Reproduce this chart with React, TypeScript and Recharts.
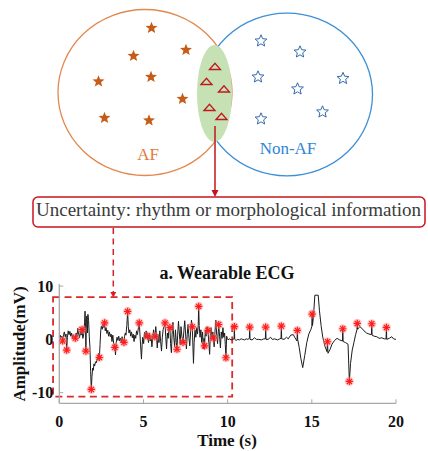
import React from "react";
import {
  ComposedChart,
  Line,
  Scatter,
  XAxis,
  YAxis,
  ReferenceArea,
} from "recharts";

// ECG trace: [time (s), amplitude (mV)]
const ecgTrace: [number, number][] = [
  [0.0, 0.2], [0.05, 0.8], [0.1, 0.3], [0.15, 0.6], [0.2, -0.3], [0.25, 0.9], [0.3, 1.4], [0.35, 0.5],
  [0.4, 1.0], [0.44, -2.0], [0.48, 0.4], [0.53, 1.6], [0.58, 0.9], [0.63, 1.5], [0.68, 0.6], [0.73, 1.2],
  [0.78, 0.2], [0.83, 0.9], [0.88, 0.4], [0.95, 0.25], [1.0, 1.2], [1.05, 0.6], [1.1, 2.1], [1.15, 1.0],
  [1.2, 0.3], [1.25, 1.4], [1.3, 0.8], [1.35, 1.85], [1.4, 0.2], [1.45, 1.0], [1.5, 3.2], [1.53, 5.3],
  [1.56, 2.0], [1.58, -2.2], [1.61, 3.8], [1.64, 4.4], [1.67, 1.2], [1.7, 4.7], [1.74, 3.5], [1.78, 0.6],
  [1.82, -1.5], [1.86, -6.0], [1.9, -9.4], [1.94, -7.0], [1.98, -5.4], [2.02, -5.8], [2.06, -4.6], [2.1, -5.0],
  [2.15, -4.2], [2.2, -4.4], [2.25, -3.6], [2.3, -3.9], [2.34, -2.6], [2.38, -3.4], [2.42, -1.0], [2.46, 1.6],
  [2.5, 2.5], [2.55, 1.9], [2.6, 2.8], [2.65, 2.2], [2.69, 3.1], [2.73, 1.6], [2.78, 2.2], [2.83, 1.1],
  [2.88, 1.7], [2.93, 0.6], [2.98, 1.4], [3.03, 0.5], [3.08, 1.0], [3.13, -0.4], [3.18, 0.8], [3.23, -0.8],
  [3.3, -1.5], [3.34, -2.9], [3.38, -0.6], [3.43, 0.4], [3.48, -0.2], [3.53, 0.6], [3.58, -0.3], [3.63, 0.2],
  [3.68, -0.6], [3.73, 0.5], [3.78, -0.2], [3.84, -0.55], [3.88, 0.6], [3.92, 1.2], [3.96, 0.8], [4.01, 2.6],
  [4.06, 5.25], [4.1, 2.4], [4.14, 1.2], [4.19, 1.8], [4.24, 0.6], [4.29, 1.4], [4.34, 0.3], [4.39, 1.0],
  [4.44, -0.4], [4.49, 0.8], [4.54, 0.2], [4.59, 1.6], [4.64, 0.9], [4.7, 2.2], [4.75, 3.1], [4.79, 1.0],
  [4.83, -1.2], [4.88, -3.7], [4.92, -1.0], [4.96, 0.4], [5.01, -0.8], [5.06, 1.3], [5.11, 0.3], [5.16, 1.6],
  [5.21, 0.2], [5.25, 0.6], [5.3, -0.6], [5.35, 1.2], [5.4, -0.3], [5.45, 0.8], [5.5, -1.4], [5.55, 0.4],
  [5.6, 1.8], [5.64, 0.7], [5.68, 0.5], [5.73, 2.4], [5.77, 0.8], [5.82, -1.6], [5.87, 0.9], [5.92, -0.6],
  [5.97, 1.6], [6.02, -0.4], [6.07, -2.2], [6.12, 0.4], [6.17, 1.9], [6.22, 2.4], [6.28, 3.1], [6.32, 0.6],
  [6.37, -1.8], [6.42, 1.2], [6.47, 0.2], [6.52, 2.4], [6.57, 2.2], [6.61, -0.8], [6.66, -2.5], [6.7, 1.0],
  [6.75, 3.2], [6.8, 0.4], [6.85, -1.4], [6.9, 1.8], [6.95, -0.6], [6.99, -1.85], [7.03, 0.8], [7.08, 3.4],
  [7.13, 1.2], [7.18, -1.0], [7.23, 2.4], [7.28, 0.6], [7.35, -0.55], [7.4, 1.6], [7.45, 3.5], [7.5, 1.2],
  [7.55, -1.8], [7.6, 0.9], [7.65, 2.8], [7.7, 0.3], [7.75, -1.2], [7.8, 1.4], [7.85, 3.6], [7.9, 2.35],
  [7.94, -1.6], [7.97, -4.5], [8.01, -0.6], [8.06, 1.8], [8.11, 0.4], [8.16, 2.2], [8.21, 1.0], [8.25, 2.6],
  [8.28, 6.2], [8.31, 2.6], [8.36, 0.4], [8.41, 1.8], [8.46, -0.6], [8.51, 1.4], [8.56, -1.8], [8.6, 0.2],
  [8.63, -1.2], [8.67, 1.6], [8.72, 0.6], [8.77, 2.4], [8.83, 1.7], [8.88, -0.6], [8.93, -2.8], [8.97, 0.8],
  [9.02, 2.2], [9.07, 0.2], [9.12, 1.4], [9.15, 0.25], [9.2, -1.4], [9.25, 1.6], [9.3, 3.6], [9.35, 0.8],
  [9.4, -0.8], [9.47, 2.8], [9.52, 0.6], [9.57, -1.6], [9.62, 1.4], [9.67, 0.2], [9.72, 2.2], [9.77, 0.4],
  [9.82, 1.2], [9.86, -1.0], [9.9, -3.45], [9.94, 0.6], [9.98, 0.2], [10.03, -0.1], [10.08, 0.1],
  [10.1, 0.1], [10.2, -0.1], [10.3, 0.0], [10.38, 0.1], [10.4, 2.38], [10.42, 0.0], [10.5, -0.2], [10.6, 0.0],
  [10.7, -0.1], [10.8, 0.1], [10.9, 0.0], [11.0, -0.1], [11.1, 0.1], [11.2, 0.0], [11.29, 0.2], [11.31, 2.3],
  [11.33, 0.0], [11.45, -0.1], [11.6, 0.3], [11.7, 0.0], [11.85, 0.0], [12.0, -0.1], [12.15, 0.1], [12.24, 0.1],
  [12.26, 2.3], [12.28, 0.0], [12.4, 0.0], [12.55, 0.4], [12.65, 0.0], [12.8, 0.1], [12.95, -0.1], [13.1, 0.1],
  [13.17, 0.2], [13.19, 2.5], [13.21, 0.1], [13.35, 0.0], [13.5, 0.4], [13.6, 0.1], [13.75, 0.8], [13.9, 0.9],
  [14.0, 0.3], [14.12, -0.3], [14.14, 1.69], [14.16, 0.0], [14.25, -1.5], [14.35, -3.6], [14.46, -5.3],
  [14.58, -3.0], [14.7, -0.6], [14.82, 1.0], [14.95, 1.9], [15.0, 2.4], [15.02, 4.75], [15.04, 2.6],
  [15.1, 4.4], [15.18, 8.3], [15.38, 8.3], [15.45, 5.5], [15.55, 2.6], [15.65, 0.4], [15.78, -1.3],
  [15.9, -2.3], [15.93, -0.44], [15.96, -2.6], [16.08, -1.9], [16.2, -0.9], [16.35, -0.2], [16.5, 0.2],
  [16.65, -0.1], [16.82, -0.3], [16.84, 2.0], [16.86, -0.4], [17.0, -0.6], [17.15, -0.9], [17.23, -7.9],
  [17.3, -4.5], [17.4, -2.0], [17.5, -0.6], [17.6, 0.9], [17.68, 1.8], [17.7, 3.0], [17.72, 1.9],
  [17.85, 2.4], [17.97, 2.1], [18.1, 1.6], [18.25, 1.2], [18.4, 1.0], [18.54, 0.9], [18.56, 2.94],
  [18.58, 0.8], [18.7, 0.6], [18.86, 0.5], [19.0, 0.2], [19.15, 0.3], [19.3, 0.1], [19.41, 0.1],
  [19.43, 2.25], [19.45, 0.0], [19.6, 0.2], [19.75, 0.5], [19.85, 0.1], [20.0, 0.0],
];

// Detected R-peaks
const peakTime = [
  0.2, 0.44, 0.95, 1.35, 1.58, 1.9, 2.38, 2.69, 3.3, 3.84, 4.06, 4.75, 5.25, 5.68, 6.28, 6.57, 6.99, 7.35,
  7.9, 8.28, 8.63, 8.83, 9.15, 9.47, 9.9, 10.4, 11.31, 12.26, 13.19, 14.14, 15.02, 15.93, 16.84, 17.23,
  17.7, 18.56, 19.43,
];
const peakAmp = [
  -0.3, -2.0, 0.25, 1.85, -2.2, -9.4, -3.4, 3.1, -1.5, -0.55, 5.25, 3.1, 0.6, 0.5, 3.1, 2.2, -1.85, -0.55,
  2.35, 6.2, -1.2, 1.7, 0.25, 2.8, -3.45, 2.38, 2.3, 2.3, 2.5, 1.69, 4.75, -0.44, 2.0, -7.9, 3.0, 2.94,
  2.25,
];

const xTicks = [0, 5, 10, 15, 20];
const yTicks = [-10, 0, 10];

// Window of the noisy segment, in data units
const noisyWindow = { x1: -0.37, x2: 10.27, y1: -10.75, y2: 7.94 };

const ecgData = ecgTrace.map(([t, v]) => ({ t, v }));
const peakData = peakTime.map((t, i) => ({ t, v: peakAmp[i] }));

const SERIF = "'Times New Roman', 'Liberation Serif', serif";
const FRAME = "#a8a8a8";

const PeakMarker = (props: any) => {
  const { cx, cy } = props;
  if (cx == null || cy == null) return null;
  const r = 3.6;
  const d = r * 0.707;
  return (
    <g>
      <circle cx={cx} cy={cy} r={4.6} fill="#ff8c8c" opacity={0.45} />
      <g stroke="#ff1a1a" strokeWidth={1.2}>
        <line x1={cx - r} y1={cy} x2={cx + r} y2={cy} />
        <line x1={cx} y1={cy - r} x2={cx} y2={cy + r} />
        <line x1={cx - d} y1={cy - d} x2={cx + d} y2={cy + d} />
        <line x1={cx - d} y1={cy + d} x2={cx + d} y2={cy - d} />
      </g>
    </g>
  );
};

function starPath(cx: number, cy: number, R: number, r: number) {
  const pts: string[] = [];
  for (let i = 0; i < 10; i++) {
    const rad = i % 2 === 0 ? R : r;
    const a = -Math.PI / 2 + (i * Math.PI) / 5;
    pts.push(`${(cx + rad * Math.cos(a)).toFixed(2)},${(cy + rad * Math.sin(a)).toFixed(2)}`);
  }
  return "M" + pts.join("L") + "Z";
}

const afStars = [
  [151.5, 28], [186, 50], [133.5, 56], [151, 77], [98.5, 81.5], [182.5, 99], [104.5, 118], [149, 120.5],
];
const nonAfStars = [
  [261, 41], [300, 52], [258, 77], [343, 78.5], [297.5, 89], [322.5, 112], [261, 119],
];
const unsureMarks = [
  [215, 66.5], [206.5, 81.5], [224, 89], [209.5, 107.5], [221.5, 116.5],
];

const Diagram = () => (
  <svg
    width={428}
    height={451}
    style={{ position: "absolute", left: 0, top: 0, pointerEvents: "none" }}
  >
    {/* class sets */}
    <ellipse cx={145} cy={92.5} rx={87} ry={83} fill="none" stroke="#e3884f" strokeWidth={1.3} />
    <ellipse cx={287} cy={94.5} rx={85.5} ry={81.3} fill="none" stroke="#3d8fd6" strokeWidth={1.3} />
    <ellipse cx={214.5} cy={93.5} rx={17.5} ry={48.5} fill="#c6e2b5" />
    {unsureMarks.map(([x, y], i) => (
      <path
        key={`tri${i}`}
        d={`M${x - 5.5},${y + 3} L${x},${y - 3.2} L${x + 5.5},${y + 3} Z`}
        fill="none"
        stroke="#c0181e"
        strokeWidth={1.3}
      />
    ))}
    {afStars.map(([x, y], i) => (
      <path key={`af${i}`} d={starPath(x, y, 6.3, 2.7)} fill="#c55c17" />
    ))}
    {nonAfStars.map(([x, y], i) => (
      <path
        key={`naf${i}`}
        d={starPath(x, y, 6.2, 2.8)}
        fill="none"
        stroke="#3469ad"
        strokeWidth={1}
      />
    ))}
    <text x={148} y={160} textAnchor="middle" fontFamily={SERIF} fontSize={17} fill="#e07b3c">
      AF
    </text>
    <text x={288} y={154} textAnchor="middle" fontFamily={SERIF} fontSize={17} fill="#2f86d2">
      Non-AF
    </text>

    {/* link from the overlap to the note */}
    <line x1={215} y1={126} x2={215} y2={191} stroke="#c0161c" strokeWidth={1.5} />
    <path d="M211.5,190 L218.5,190 L215,197 Z" fill="#c0161c" />

    <rect x={33} y={197} width={392} height={30} rx={5} fill="#fff" stroke="#c8161e" strokeWidth={1.5} />
    <text
      x={36}
      y={216}
      fontFamily={SERIF}
      fontSize={19}
      fill="#3a3a3a"
      textLength={385}
      lengthAdjust="spacingAndGlyphs"
    >
      Uncertainty: rhythm or morphological information
    </text>

    {/* link from the note to the noisy window */}
    <line x1={113.3} y1={228} x2={113.3} y2={292} stroke="#d42027" strokeWidth={1.5} strokeDasharray="6 4.5" />
    <path d="M110.3,292 L116.3,292 L113.3,297.5 Z" fill="#d42027" />

    {/* chart titles */}
    <text x={227} y={279} textAnchor="middle" fontFamily={SERIF} fontWeight="bold" fontSize={18} fill="#111">
      a. Wearable ECG
    </text>
    <text x={227} y={446} textAnchor="middle" fontFamily={SERIF} fontWeight="bold" fontSize={17} fill="#111">
      Time (s)
    </text>
    <text
      x={0}
      y={0}
      transform="translate(25,344) rotate(-90)"
      textAnchor="middle"
      fontFamily={SERIF}
      fontWeight="bold"
      fontSize={17}
      fill="#111"
    >
      Amplitude(mV)
    </text>
  </svg>
);

const tickStyle = { fontFamily: SERIF, fontWeight: "bold", fontSize: 16, fill: "#111" } as any;

export default function App() {
  return (
    <div style={{ position: "absolute", left: 0, top: 0, width: 428, height: 451, background: "#fff" }}>
      <ComposedChart
        width={428}
        height={451}
        margin={{ top: 284, right: 32, bottom: 17.7, left: 19.3 }}
      >
        <XAxis
          dataKey="t"
          type="number"
          domain={[0, 20]}
          ticks={xTicks}
          allowDataOverflow
          height={30}
          tickSize={-4}
          tickMargin={16}
          tick={tickStyle}
          stroke={FRAME}
          axisLine={{ stroke: FRAME, strokeWidth: 1.3 }}
          tickLine={{ stroke: FRAME }}
        />
        <XAxis
          xAxisId="top"
          orientation="top"
          type="number"
          domain={[0, 20]}
          ticks={xTicks}
          height={0}
          tickSize={-4}
          tick={false}
          axisLine={{ stroke: FRAME, strokeWidth: 1.3 }}
          tickLine={{ stroke: FRAME }}
        />
        <YAxis
          type="number"
          domain={[-12, 10.4]}
          ticks={yTicks}
          allowDataOverflow
          width={40}
          tickSize={-4}
          tickMargin={10}
          tick={tickStyle}
          axisLine={{ stroke: FRAME, strokeWidth: 1.3 }}
          tickLine={{ stroke: FRAME }}
        />
        <YAxis
          yAxisId="right"
          orientation="right"
          type="number"
          domain={[-12, 10.4]}
          ticks={yTicks}
          width={0}
          tickSize={-4}
          tick={false}
          axisLine={{ stroke: FRAME, strokeWidth: 1.3 }}
          tickLine={{ stroke: FRAME }}
        />
        <Line
          data={ecgData}
          dataKey="v"
          type="linear"
          stroke="#1c1c1c"
          strokeWidth={1}
          dot={false}
          isAnimationActive={false}
        />
        <Scatter
          data={peakData}
          dataKey="v"
          shape={<PeakMarker />}
          isAnimationActive={false}
        />
        <ReferenceArea
          x1={noisyWindow.x1}
          x2={noisyWindow.x2}
          y1={noisyWindow.y1}
          y2={noisyWindow.y2}
          ifOverflow="visible"
          fill="none"
          fillOpacity={0}
          stroke="#dc2a2a"
          strokeWidth={1.8}
          strokeDasharray="7 4.5"
        />
      </ComposedChart>
      <Diagram />
    </div>
  );
}
